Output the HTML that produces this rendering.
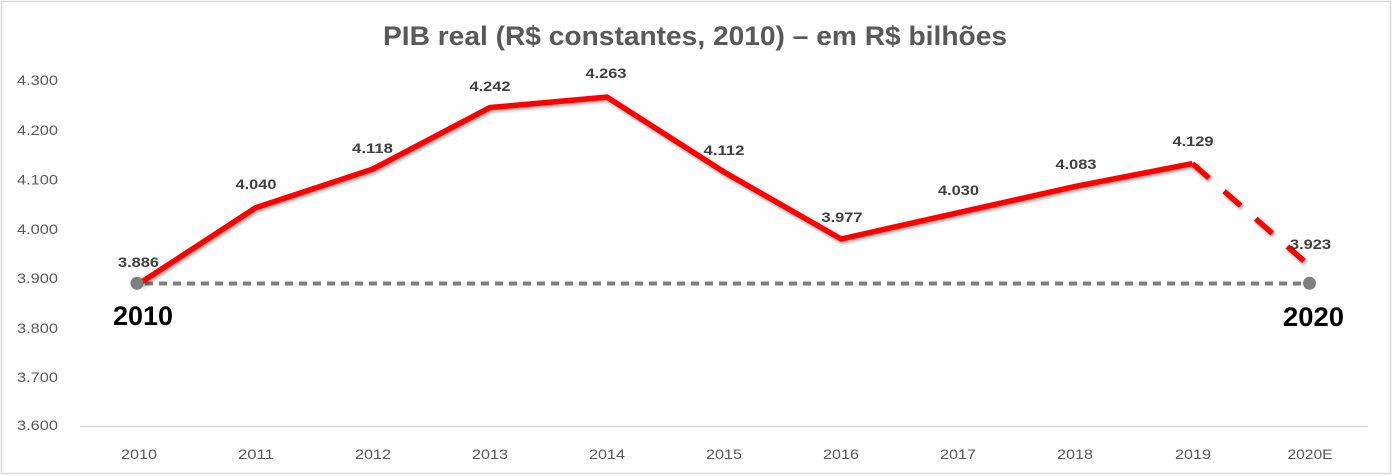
<!DOCTYPE html>
<html>
<head>
<meta charset="utf-8">
<style>
  html, body { margin: 0; padding: 0; background: #ffffff; }
  body { width: 1392px; height: 476px; overflow: hidden; }
  svg { display: block; }
  text { font-family: "Liberation Sans", "DejaVu Sans", sans-serif; }
</style>
</head>
<body>
<svg width="1392" height="476" viewBox="0 0 1392 476" xmlns="http://www.w3.org/2000/svg">
  <defs>
    <filter id="sh" x="-5%" y="-20%" width="110%" height="140%">
      <feGaussianBlur in="SourceAlpha" stdDeviation="1.5"/>
      <feOffset dx="1.5" dy="2" result="o"/>
      <feComponentTransfer><feFuncA type="linear" slope="0.35"/></feComponentTransfer>
      <feMerge><feMergeNode/><feMergeNode in="SourceGraphic"/></feMerge>
    </filter>
  </defs>
  <!-- chart border -->
  <rect x="1.5" y="1.5" width="1389" height="472" fill="#ffffff" stroke="#d9d9d9" stroke-width="1.5"/>

  <!-- title -->
  <text x="695" y="45" text-anchor="middle" font-size="26.5" font-weight="bold" fill="#595959" textLength="624" lengthAdjust="spacingAndGlyphs">PIB real (R$ constantes, 2010) – em R$ bilhões</text>

  <!-- y axis labels -->
  <g font-size="14" fill="#595959" text-anchor="end">
    <text x="58" y="85" textLength="41" lengthAdjust="spacingAndGlyphs">4.300</text>
    <text x="58" y="135" textLength="41" lengthAdjust="spacingAndGlyphs">4.200</text>
    <text x="58" y="184.5" textLength="41" lengthAdjust="spacingAndGlyphs">4.100</text>
    <text x="58" y="234" textLength="41" lengthAdjust="spacingAndGlyphs">4.000</text>
    <text x="58" y="283" textLength="41" lengthAdjust="spacingAndGlyphs">3.900</text>
    <text x="58" y="333" textLength="41" lengthAdjust="spacingAndGlyphs">3.800</text>
    <text x="58" y="382" textLength="41" lengthAdjust="spacingAndGlyphs">3.700</text>
    <text x="58" y="430" textLength="41" lengthAdjust="spacingAndGlyphs">3.600</text>
  </g>

  <!-- x axis line -->
  <line x1="80" y1="426.5" x2="1368" y2="426.5" stroke="#d9d9d9" stroke-width="1.5"/>

  <!-- x axis labels -->
  <g font-size="14" fill="#595959" text-anchor="middle">
    <text x="139" y="459" textLength="36" lengthAdjust="spacingAndGlyphs">2010</text>
    <text x="256" y="459" textLength="36" lengthAdjust="spacingAndGlyphs">2011</text>
    <text x="373" y="459" textLength="36" lengthAdjust="spacingAndGlyphs">2012</text>
    <text x="490" y="459" textLength="36" lengthAdjust="spacingAndGlyphs">2013</text>
    <text x="607" y="459" textLength="36" lengthAdjust="spacingAndGlyphs">2014</text>
    <text x="724" y="459" textLength="36" lengthAdjust="spacingAndGlyphs">2015</text>
    <text x="841" y="459" textLength="36" lengthAdjust="spacingAndGlyphs">2016</text>
    <text x="958" y="459" textLength="36" lengthAdjust="spacingAndGlyphs">2017</text>
    <text x="1075" y="459" textLength="36" lengthAdjust="spacingAndGlyphs">2018</text>
    <text x="1193" y="459" textLength="36" lengthAdjust="spacingAndGlyphs">2019</text>
    <text x="1310" y="459" textLength="45" lengthAdjust="spacingAndGlyphs">2020E</text>
  </g>

  <!-- grey dotted reference line -->
  <line x1="145" y1="283.5" x2="1303" y2="283.5" stroke="#7f7f7f" stroke-width="4" stroke-dasharray="8 6"/>

  <!-- red series solid -->
  <polyline filter="url(#sh)" fill="none" stroke="#ff0000" stroke-width="5.5" stroke-linejoin="miter" stroke-linecap="butt"
    points="138.5,284.1 255.6,207.8 372.7,169.1 489.8,107.6 606.9,97.1 724.0,172.0 841.1,239.0 958.2,212.7 1075.3,186.4 1192.4,163.6"/>
  <!-- red series dashed (estimate) -->
  <line filter="url(#sh)" x1="1192.4" y1="163.6" x2="1309.5" y2="265.8" stroke="#ff0000" stroke-width="5.5" stroke-dasharray="22 20"/>

  <!-- grey dots -->
  <circle cx="137" cy="283.3" r="6.5" fill="#7f7f7f"/>
  <circle cx="1309.5" cy="283.3" r="6.5" fill="#7f7f7f"/>

  <!-- data labels -->
  <g font-size="14" font-weight="bold" fill="#404040" text-anchor="middle">
    <text x="138.5" y="267" textLength="41" lengthAdjust="spacingAndGlyphs">3.886</text>
    <text x="256" y="189" textLength="41" lengthAdjust="spacingAndGlyphs">4.040</text>
    <text x="372.5" y="153" textLength="41" lengthAdjust="spacingAndGlyphs">4.118</text>
    <text x="490" y="91" textLength="41" lengthAdjust="spacingAndGlyphs">4.242</text>
    <text x="606" y="78" textLength="41" lengthAdjust="spacingAndGlyphs">4.263</text>
    <text x="724" y="155" textLength="41" lengthAdjust="spacingAndGlyphs">4.112</text>
    <text x="842" y="222" textLength="41" lengthAdjust="spacingAndGlyphs">3.977</text>
    <text x="958.5" y="195" textLength="41" lengthAdjust="spacingAndGlyphs">4.030</text>
    <text x="1076" y="169" textLength="41" lengthAdjust="spacingAndGlyphs">4.083</text>
    <text x="1193" y="146" textLength="41" lengthAdjust="spacingAndGlyphs">4.129</text>
    <text x="1310.5" y="249" textLength="41" lengthAdjust="spacingAndGlyphs">3.923</text>
  </g>

  <!-- big year labels -->
  <g font-size="27" font-weight="bold" fill="#000000" text-anchor="middle">
    <text x="143" y="325" textLength="60" lengthAdjust="spacingAndGlyphs">2010</text>
    <text x="1313.5" y="326" textLength="61" lengthAdjust="spacingAndGlyphs">2020</text>
  </g>
</svg>
</body>
</html>
